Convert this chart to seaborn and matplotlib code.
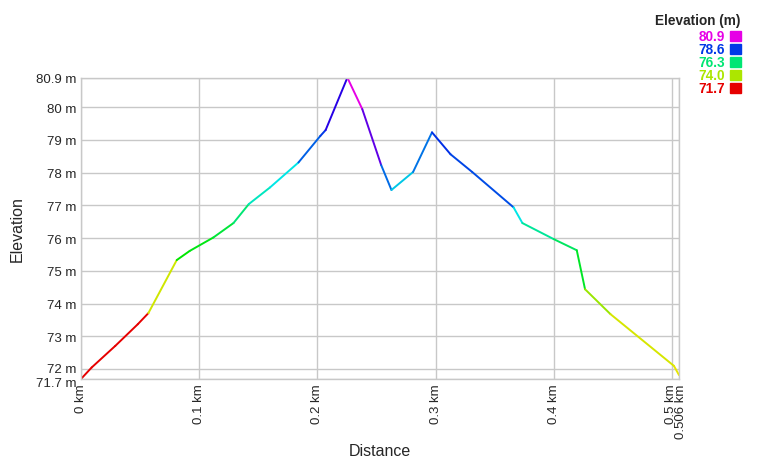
import colorsys

import matplotlib

matplotlib.use("Agg")

import matplotlib.pyplot as plt
import matplotlib.transforms as mtransforms
import pandas as pd
import seaborn as sns
from matplotlib.patches import Rectangle


# track profile (km, m)
DISTANCE_KM = [
    0.000, 0.009, 0.029, 0.048, 0.057, 0.081, 0.092, 0.112, 0.129, 0.142,
    0.160, 0.184, 0.2025, 0.207, 0.2254, 0.238, 0.254, 0.2627, 0.281, 0.297,
    0.3127, 0.331, 0.366, 0.3735, 0.400, 0.4195, 0.4265, 0.448, 0.5017, 0.506,
]
ELEVATION_M = [
    71.7, 72.05, 72.71, 73.37, 73.71, 75.33, 75.61, 76.02, 76.46, 77.04,
    77.55, 78.31, 79.12, 79.30, 80.9, 79.94, 78.23, 77.47, 78.02, 79.23,
    78.56, 78.02, 76.94, 76.46, 75.97, 75.63, 74.44, 73.68, 72.10, 71.82,
]
# hue (degrees) of each segment between consecutive points
SEGMENT_HUE = [
    0, 0, 0, 0, 66, 120, 125, 135, 150, 170,
    180, 215, 225, 250, 300, 265, 212, 188, 210, 228,
    222, 220, 180, 160, 145, 130, 80, 64, 60,
]

X_TICKS = [0.0, 0.1, 0.2, 0.3, 0.4, 0.5, 0.506]
Y_TICKS = [71.7, 72, 73, 74, 75, 76, 77, 78, 79, 80, 80.9]


def hue_color(h):
    return colorsys.hsv_to_rgb(h / 360.0, 1.0, 0.9)


def legend_hue(value, lo, hi):
    return 300.0 * (value - lo) / (hi - lo)


def build_segments():
    rows = []
    for i in range(len(DISTANCE_KM) - 1):
        for j in (i, i + 1):
            rows.append({"dist": DISTANCE_KM[j], "elev": ELEVATION_M[j], "seg": f"s{i}"})
    return pd.DataFrame(rows)


def nudge(label, dx, dy):
    offset = mtransforms.ScaledTranslation(dx / 72, dy / 72, fig.dpi_scale_trans)
    label.set_transform(label.get_transform() + offset)


sns.set_style("whitegrid")
plt.rcParams["font.family"] = ["Liberation Sans", "DejaVu Sans"]

fig = plt.figure(figsize=(7.6, 4.6), dpi=100)
ax = fig.add_axes([0.1066, 0.174, 0.7868, 0.655])

segments = build_segments()
palette = {f"s{i}": hue_color(h) for i, h in enumerate(SEGMENT_HUE)}
sns.lineplot(
    data=segments,
    x="dist",
    y="elev",
    hue="seg",
    palette=palette,
    estimator=None,
    sort=False,
    legend=False,
    linewidth=1.4,
    ax=ax,
)

ax.set_xlim(0, 0.506)
ax.set_ylim(71.7, 80.9)
ax.set_xticks(X_TICKS)
ax.set_xticklabels([f"{t:g} km" for t in X_TICKS], rotation=90, fontsize=9.5)
ax.set_yticks(Y_TICKS)
ax.set_yticklabels([f"{t:g} m" for t in Y_TICKS], fontsize=9.5)
ax.tick_params(length=0, pad=3)
ax.grid(True, color="#c8c8c8", linewidth=1)
for spine in ax.spines.values():
    spine.set_color("#c8c8c8")
    spine.set_linewidth(1)
ax.set_xlabel("Distance", fontsize=11.5, labelpad=4)
ax.set_ylabel("Elevation", fontsize=11.5, labelpad=8)

# the end ticks sit close to their neighbours; spread the labels a little
ylabels = ax.get_yticklabels()
nudge(ylabels[0], 0, -1.5)
nudge(ylabels[1], 0, 1.5)
xlabels = ax.get_xticklabels()
nudge(xlabels[-2], -1.0, 0)
nudge(xlabels[-1], 1.5, 0)

# colour key, top right
lo, hi = min(ELEVATION_M), max(ELEVATION_M)
legend_values = [hi - k * (hi - lo) / 4 for k in range(5)]
fig.text(0.974, 0.955, "Elevation (m)", ha="right", va="center",
         fontsize=9.8, fontweight="bold")
for k, value in enumerate(legend_values):
    y = 0.92 - k * 0.0285
    color = hue_color(legend_hue(value, lo, hi))
    fig.text(0.954, y, f"{value:.1f}", ha="right", va="center",
             fontsize=9.8, fontweight="bold", color=color)
    fig.add_artist(Rectangle((0.961, y - 0.011), 0.0135, 0.022,
                             transform=fig.transFigure, color=color))

fig.savefig("out.png", dpi=100)
plt.close(fig)
